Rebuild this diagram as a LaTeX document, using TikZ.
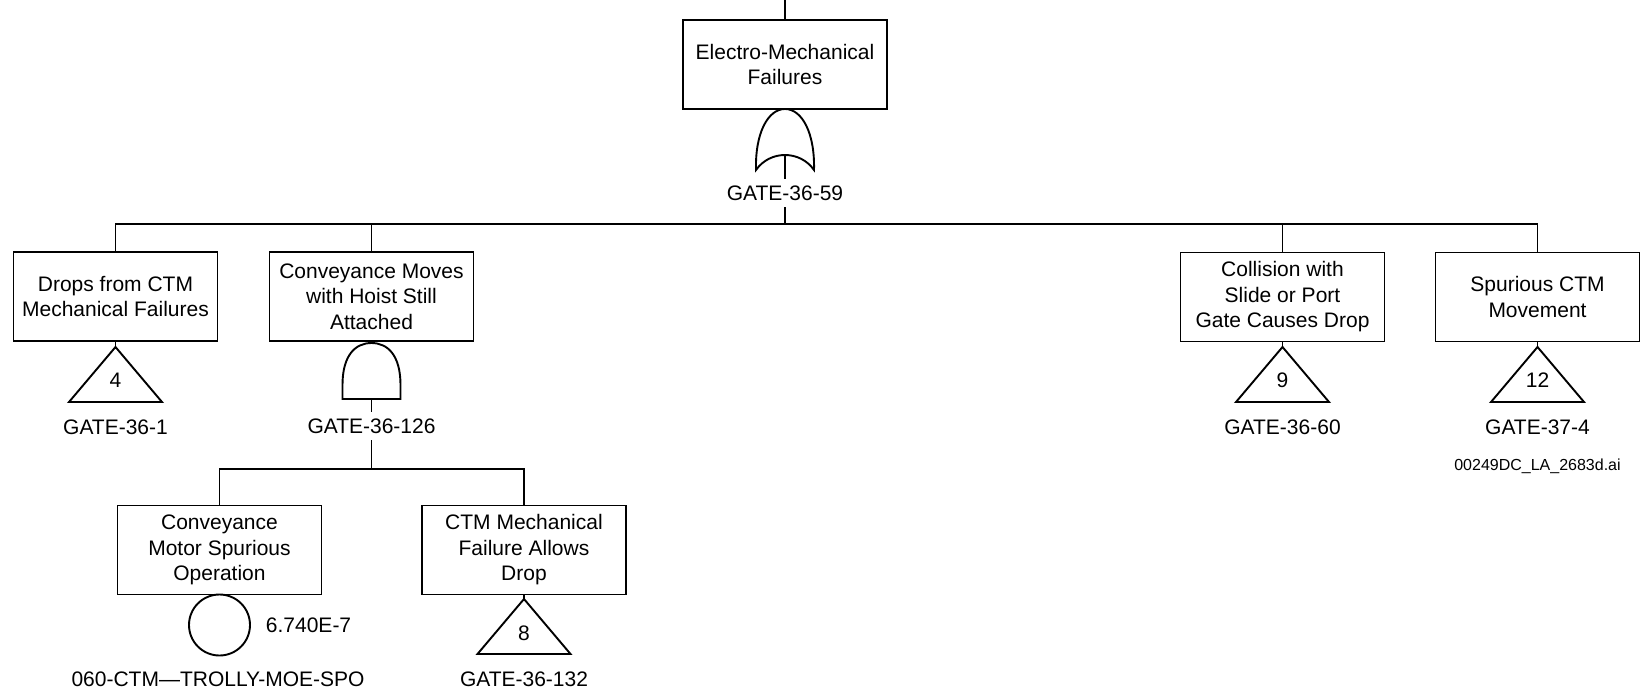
\documentclass[tikz,border=0pt]{standalone}
\usepackage{fontspec}
\setmainfont{Liberation Sans}
\begin{document}
\begin{tikzpicture}[x=1pt,y=-1pt,line width=1.9pt,
  evbox/.style={draw,minimum width=204pt,minimum height=89pt,inner sep=2pt,align=center,
    font=\fontsize{21}{25.5}\selectfont},
  lbl/.style={inner xsep=0pt,inner ysep=6pt,font=\fontsize{21}{25.5}\selectfont},
  num/.style={inner sep=0pt,font=\fontsize{21}{25.5}\selectfont},
  small/.style={inner sep=0pt,font=\fontsize{16}{19}\selectfont},
  orgate/.pic={
    \draw (-29,61) .. controls (-30,24) and (-17,0) .. (0,0) .. controls (17,0) and (30,24) .. (29,61)
      .. controls (15,41) and (-15,41) .. (-29,61) -- cycle;
    \coordinate (-top) at (0,0);
    \coordinate (-out) at (0,46);
  },
  andgate/.pic={
    \draw (-29,56) -- (-29,42) .. controls (-29,12) and (-16,0) .. (0,0) .. controls (16,0) and (29,12) .. (29,42) -- (29,56) -- cycle;
    \coordinate (-top) at (0,0);
    \coordinate (-out) at (0,56);
  },
  transfer/.pic={
    \draw (0,0) -- (-46.5,55) -- (46.5,55) -- cycle;
    \coordinate (-top) at (0,0);
  }
]
\useasboundingbox (0,0) rectangle (1640,695);

% top event
\coordinate (topin) at (785,0);
\node[evbox] (top) at (785,64.5) {Electro-Mechanical\\Failures};
\pic (g59) at (785,109) {orgate};
\node[lbl] (l59) at (785,193) {GATE-36-59};

% level 1 boxes
\node[evbox] (b1) at (115.5,296.5) {Drops from CTM\\Mechanical Failures};
\node[evbox] (b2) at (371.5,296.5) {Conveyance Moves\\with Hoist Still\\Attached};
\node[evbox] (b5) at (1282.5,297) {Collision with\\Slide or Port\\Gate Causes Drop};
\node[evbox] (b6) at (1537.5,297) {Spurious CTM\\Movement};

\coordinate (busA) at (785,224);

% transfers level 1
\pic (t1) at (115.5,347) {transfer};
\node[num] (n1) at (115.5,380) {4};
\node[lbl] (l1) at (115.5,427) {GATE-36-1};

\pic (g126) at (371.5,343) {andgate};
\node[lbl] (l126) at (371.5,426) {GATE-36-126};

\pic (t5) at (1282.5,347) {transfer};
\node[num] (n5) at (1282.5,380) {9};
\node[lbl] (l60) at (1282.5,427) {GATE-36-60};

\pic (t6) at (1537.5,347) {transfer};
\node[num] (n6) at (1537.5,380) {12};
\node[lbl] (l374) at (1537.5,427) {GATE-37-4};

\node[small] (file) at (1537.5,466) {00249DC\_LA\_2683d.ai};

% level 2
\coordinate (busB) at (371.5,469);
\node[evbox] (b3) at (219.5,550) {Conveyance\\Motor Spurious\\Operation};
\node[evbox] (b4) at (524,550) {CTM Mechanical\\Failure Allows\\Drop};

\node[draw,circle,minimum size=61pt,inner sep=0pt] (e1) at (219.5,625) {};
\node[num,anchor=west] (p1) at (265,625) {6.740E-7};
\node[lbl] (lspo) at (218,679) {060-CTM—TROLLY-MOE-SPO};

\pic (t4) at (524,599) {transfer};
\node[num] (n4) at (524,633) {8};
\node[lbl] (l132) at (524,679) {GATE-36-132};

% connectors
\draw (topin) -- (top.north);
\draw (top.south) -- (g59-top);
\draw (g59-out) -- (l59.north);
\draw (l59.south) -- (busA);
\draw (b1.north) |- (busA) -| (b6.north);
\draw (b2.north) -- (b2.north |- busA);
\draw (b5.north) -- (b5.north |- busA);

\draw (b1.south) -- (t1-top);
\draw (b2.south) -- (g126-top);
\draw (b5.south) -- (t5-top);
\draw (b6.south) -- (t6-top);
\draw (g126-out) -- (l126.north);
\draw (l126.south) -- (busB);
\draw (b3.north) |- (busB) -| (b4.north);
\draw (b3.south) -- (e1.north);
\draw (b4.south) -- (t4-top);
\end{tikzpicture}
\end{document}
